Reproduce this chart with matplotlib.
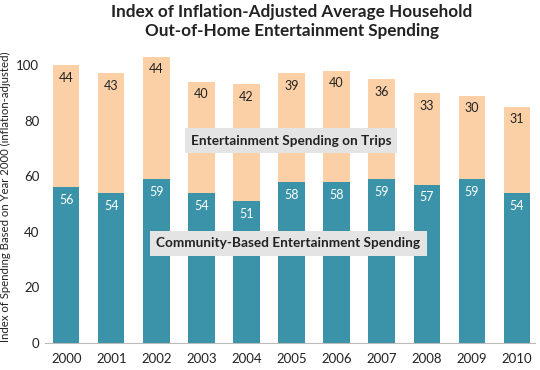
import numpy as np
import matplotlib.pyplot as plt

years = ['2000', '2001', '2002', '2003', '2004', '2005', '2006', '2007', '2008', '2009', '2010']
community = [56, 54, 59, 54, 51, 58, 58, 59, 57, 59, 54]
trips = [44, 43, 44, 40, 42, 39, 40, 36, 33, 30, 31]

plt.rcParams['font.family'] = ['Lato', 'DejaVu Sans']

teal = '#3a93a8'
peach = '#fcd0a6'

fig = plt.figure(figsize=(5.4, 3.7), dpi=100)
ax = fig.add_axes([0.083, 0.073, 0.907, 0.789])

x = np.arange(len(years))
ax.bar(x, community, width=0.58, color=teal)
ax.bar(x, trips, width=0.58, bottom=community, color=peach)

for i in range(len(years)):
    ax.text(x[i], community[i] - 4.6, str(community[i]), ha='center', va='center',
            color='white', fontsize=9)
    ax.text(x[i], community[i] + trips[i] - 4.6, str(trips[i]), ha='center', va='center',
            color='#222222', fontsize=9)

# grey label boxes over the bars
box = dict(boxstyle='square,pad=0.45', facecolor='#e4e4e4', edgecolor='none')
ax.text(4.99, 72.8, 'Entertainment Spending on Trips', ha='center', va='center',
        fontsize=9.8, fontweight='bold', color='#222222', bbox=box)
ax.text(4.93, 35.8, 'Community-Based Entertainment Spending', ha='center', va='center',
        fontsize=9.8, fontweight='bold', color='#222222', bbox=box)

ax.set_xlim(-0.48, 10.4)
ax.set_ylim(0, 105)
ax.set_yticks([0, 20, 40, 60, 80, 100])
ax.set_xticks(x)
ax.set_xticklabels(years)
ax.tick_params(axis='both', length=0, labelsize=9.5, colors='#222222')
ax.tick_params(axis='x', pad=7)
ax.tick_params(axis='y', pad=4)
for s in ['top', 'right', 'left']:
    ax.spines[s].set_visible(False)
ax.spines['bottom'].set_color('#bbbbbb')
ax.set_ylabel('Index of Spending Based on Year 2000 (inflation-adjusted)', fontsize=8.2, color='#222222')

fig.suptitle('Index of Inflation-Adjusted Average Household\nOut-of-Home Entertainment Spending',
             x=0.54, y=0.99, fontsize=12.3, fontweight='bold', color='#222222', linespacing=1.25)

fig.savefig('out.png')
